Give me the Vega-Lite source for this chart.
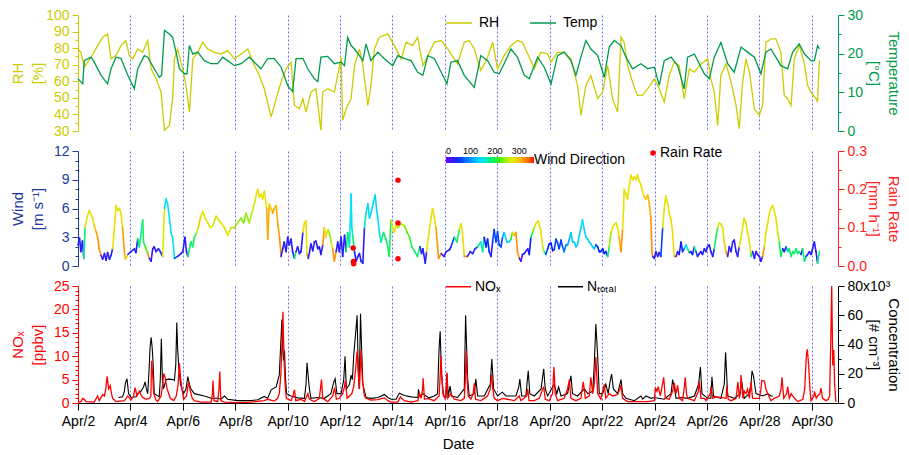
{
  "$schema": "https://vega.github.io/schema/vega-lite/v6.json",
  "padding": {"left": 10, "top": 8, "right": 16, "bottom": 0},
  "spacing": 20,
  "bounds": "flush",
  "config": {
    "view": {"stroke": null},
    "font": "Liberation Sans",
    "axis": {"labelFont": "Liberation Sans", "titleFont": "Liberation Sans", "labelFontSize": 14, "titleFontSize": 15, "titleFontWeight": "normal", "titleLineHeight": 20, "labelPadding": 3, "labelOverlap": false},
    "legend": {"labelFont": "Liberation Sans", "titleFont": "Liberation Sans", "labelFontSize": 14, "labelColor": "#000000"}
  },
  "resolve": {"scale": {"color": "independent", "shape": "independent"}, "legend": {"color": "independent", "shape": "independent"}},
  "datasets": {
    "rh": [
      {"day":2.00,"rh":79.5},{"day":2.11,"rh":77.5},{"day":2.24,"rh":68.5},{"day":2.50,"rh":74.5},{"day":2.75,"rh":81.5},{"day":2.94,"rh":86.6},{"day":3.13,"rh":88.6},{"day":3.26,"rh":73.5},{"day":3.45,"rh":75.5},{"day":3.64,"rh":81.5},{"day":3.83,"rh":84.6},{"day":3.96,"rh":75.5},{"day":4.09,"rh":73.5},{"day":4.28,"rh":79.5},{"day":4.47,"rh":77.5},{"day":4.66,"rh":84.6},{"day":4.79,"rh":67.5},{"day":4.98,"rh":61.5},{"day":5.17,"rh":53.5},{"day":5.30,"rh":30.4},{"day":5.49,"rh":33.4},{"day":5.61,"rh":49.5},{"day":5.68,"rh":73.5},{"day":5.80,"rh":79.5},{"day":6.00,"rh":67.5},{"day":6.12,"rh":57.5},{"day":6.25,"rh":41.4},{"day":6.38,"rh":73.5},{"day":6.57,"rh":77.5},{"day":6.76,"rh":83.6},{"day":6.95,"rh":79.5},{"day":7.20,"rh":77.5},{"day":7.46,"rh":76.5},{"day":7.71,"rh":78.5},{"day":7.97,"rh":73.5},{"day":8.22,"rh":76.5},{"day":8.48,"rh":79.5},{"day":8.73,"rh":69.5},{"day":8.92,"rh":63.5},{"day":9.11,"rh":55.5},{"day":9.37,"rh":38.4},{"day":9.56,"rh":49.5},{"day":9.75,"rh":59.5},{"day":9.94,"rh":67.5},{"day":10.13,"rh":71.5},{"day":10.26,"rh":45.4},{"day":10.45,"rh":43.4},{"day":10.58,"rh":49.5},{"day":10.70,"rh":41.4},{"day":10.89,"rh":53.5},{"day":11.08,"rh":55.5},{"day":11.27,"rh":30.4},{"day":11.34,"rh":53.5},{"day":11.53,"rh":55.5},{"day":11.78,"rh":53.5},{"day":11.91,"rh":63.5},{"day":12.04,"rh":74.5},{"day":12.10,"rh":36.4},{"day":12.23,"rh":43.4},{"day":12.42,"rh":49.5},{"day":12.55,"rh":69.5},{"day":12.74,"rh":79.5},{"day":12.87,"rh":69.5},{"day":13.06,"rh":45.4},{"day":13.18,"rh":57.5},{"day":13.31,"rh":79.5},{"day":13.50,"rh":86.6},{"day":13.82,"rh":88.6},{"day":14.07,"rh":81.5},{"day":14.33,"rh":73.5},{"day":14.52,"rh":83.6},{"day":14.77,"rh":81.5},{"day":14.96,"rh":86.6},{"day":15.16,"rh":69.5},{"day":15.35,"rh":75.5},{"day":15.60,"rh":83.6},{"day":15.86,"rh":84.6},{"day":16.11,"rh":79.5},{"day":16.48,"rh":70.5},{"day":16.74,"rh":83.6},{"day":16.93,"rh":84.6},{"day":17.12,"rh":79.5},{"day":17.37,"rh":66.5},{"day":17.63,"rh":74.5},{"day":17.82,"rh":83.6},{"day":18.01,"rh":67.5},{"day":18.26,"rh":75.5},{"day":18.52,"rh":81.5},{"day":18.77,"rh":84.6},{"day":18.96,"rh":83.6},{"day":19.22,"rh":74.5},{"day":19.41,"rh":67.5},{"day":19.66,"rh":77.5},{"day":19.92,"rh":76.5},{"day":20.05,"rh":71.5},{"day":20.30,"rh":77.5},{"day":20.55,"rh":77.5},{"day":20.81,"rh":73.5},{"day":21.06,"rh":57.5},{"day":21.19,"rh":39.4},{"day":21.38,"rh":57.5},{"day":21.57,"rh":63.5},{"day":21.83,"rh":49.5},{"day":22.02,"rh":53.5},{"day":22.21,"rh":69.5},{"day":22.40,"rh":49.5},{"day":22.59,"rh":41.4},{"day":22.72,"rh":86.6},{"day":22.84,"rh":83.6},{"day":22.97,"rh":69.5},{"day":23.16,"rh":59.5},{"day":23.35,"rh":51.5},{"day":23.54,"rh":51.5},{"day":23.74,"rh":55.5},{"day":23.99,"rh":61.5},{"day":24.18,"rh":55.5},{"day":24.37,"rh":47.5},{"day":24.56,"rh":63.5},{"day":24.75,"rh":71.5},{"day":24.94,"rh":69.5},{"day":25.13,"rh":49.5},{"day":25.33,"rh":67.5},{"day":25.52,"rh":65.5},{"day":25.77,"rh":70.5},{"day":26.03,"rh":73.5},{"day":26.15,"rh":61.5},{"day":26.28,"rh":53.5},{"day":26.41,"rh":33.4},{"day":26.53,"rh":63.5},{"day":26.73,"rh":70.5},{"day":26.92,"rh":59.5},{"day":27.11,"rh":45.4},{"day":27.23,"rh":31.4},{"day":27.36,"rh":59.5},{"day":27.49,"rh":73.5},{"day":27.62,"rh":65.5},{"day":27.81,"rh":43.4},{"day":28.00,"rh":39.4},{"day":28.12,"rh":45.4},{"day":28.25,"rh":83.6},{"day":28.44,"rh":85.6},{"day":28.63,"rh":85.6},{"day":28.82,"rh":77.5},{"day":28.95,"rh":51.5},{"day":29.08,"rh":49.5},{"day":29.21,"rh":45.4},{"day":29.33,"rh":73.5},{"day":29.52,"rh":81.5},{"day":29.72,"rh":70.5},{"day":29.84,"rh":57.5},{"day":29.97,"rh":53.5},{"day":30.16,"rh":49.5},{"day":30.22,"rh":47.5},{"day":30.29,"rh":72.5}
    ],
    "temp": [
      {"day":2.00,"temp":13.5},{"day":2.18,"temp":12.2},{"day":2.24,"temp":18.2},{"day":2.50,"temp":19.1},{"day":2.62,"temp":17.8},{"day":2.88,"temp":14.4},{"day":3.13,"temp":12.2},{"day":3.26,"temp":16.1},{"day":3.45,"temp":19.1},{"day":3.64,"temp":18.8},{"day":3.90,"temp":14.4},{"day":4.15,"temp":10.9},{"day":4.28,"temp":16.1},{"day":4.53,"temp":19.5},{"day":4.66,"temp":19.1},{"day":4.91,"temp":16.1},{"day":5.10,"temp":13.9},{"day":5.19,"temp":14.4},{"day":5.30,"temp":26.0},{"day":5.49,"temp":25.1},{"day":5.61,"temp":24.2},{"day":5.74,"temp":20.4},{"day":5.87,"temp":16.1},{"day":6.06,"temp":14.8},{"day":6.16,"temp":14.8},{"day":6.25,"temp":22.1},{"day":6.38,"temp":19.9},{"day":6.57,"temp":20.4},{"day":6.82,"temp":18.2},{"day":7.08,"temp":17.4},{"day":7.33,"temp":17.4},{"day":7.52,"temp":19.1},{"day":7.71,"temp":18.2},{"day":7.97,"temp":16.9},{"day":8.22,"temp":17.4},{"day":8.54,"temp":19.1},{"day":8.73,"temp":17.8},{"day":8.98,"temp":16.1},{"day":9.24,"temp":18.7},{"day":9.49,"temp":18.7},{"day":9.75,"temp":16.5},{"day":10.00,"temp":11.8},{"day":10.19,"temp":10.2},{"day":10.32,"temp":18.7},{"day":10.58,"temp":18.8},{"day":10.77,"temp":16.1},{"day":11.02,"temp":13.5},{"day":11.15,"temp":12.8},{"day":11.27,"temp":19.1},{"day":11.53,"temp":19.3},{"day":11.78,"temp":17.4},{"day":12.04,"temp":17.8},{"day":12.17,"temp":16.9},{"day":12.29,"temp":24.2},{"day":12.42,"temp":22.1},{"day":12.55,"temp":21.2},{"day":12.74,"temp":19.5},{"day":12.87,"temp":18.2},{"day":12.99,"temp":22.5},{"day":13.18,"temp":18.2},{"day":13.44,"temp":20.4},{"day":13.69,"temp":18.7},{"day":14.01,"temp":16.9},{"day":14.20,"temp":19.5},{"day":14.46,"temp":18.7},{"day":14.71,"temp":18.2},{"day":14.96,"temp":15.2},{"day":15.16,"temp":14.4},{"day":15.35,"temp":19.5},{"day":15.60,"temp":18.7},{"day":15.86,"temp":15.2},{"day":16.08,"temp":12.2},{"day":16.23,"temp":17.8},{"day":16.48,"temp":18.2},{"day":16.74,"temp":14.4},{"day":17.12,"temp":11.3},{"day":17.37,"temp":19.5},{"day":17.63,"temp":18.2},{"day":17.88,"temp":15.2},{"day":18.07,"temp":14.8},{"day":18.26,"temp":17.4},{"day":18.52,"temp":21.2},{"day":18.77,"temp":19.1},{"day":19.03,"temp":14.4},{"day":19.22,"temp":13.5},{"day":19.54,"temp":19.1},{"day":19.79,"temp":16.5},{"day":20.05,"temp":12.2},{"day":20.30,"temp":19.5},{"day":20.55,"temp":20.4},{"day":20.81,"temp":18.2},{"day":21.00,"temp":14.4},{"day":21.19,"temp":19.1},{"day":21.38,"temp":23.4},{"day":21.57,"temp":21.2},{"day":21.83,"temp":19.5},{"day":22.08,"temp":13.9},{"day":22.27,"temp":21.7},{"day":22.46,"temp":23.4},{"day":22.72,"temp":22.1},{"day":22.91,"temp":19.1},{"day":23.16,"temp":16.1},{"day":23.48,"temp":17.4},{"day":23.74,"temp":16.1},{"day":23.99,"temp":16.5},{"day":24.18,"temp":11.8},{"day":24.37,"temp":18.2},{"day":24.63,"temp":19.1},{"day":24.88,"temp":16.9},{"day":25.13,"temp":10.9},{"day":25.26,"temp":19.1},{"day":25.52,"temp":19.9},{"day":25.90,"temp":14.8},{"day":26.09,"temp":13.5},{"day":26.28,"temp":19.1},{"day":26.53,"temp":22.9},{"day":26.79,"temp":17.4},{"day":27.04,"temp":15.2},{"day":27.30,"temp":21.7},{"day":27.55,"temp":20.4},{"day":27.81,"temp":19.1},{"day":28.06,"temp":14.8},{"day":28.25,"temp":20.4},{"day":28.44,"temp":21.2},{"day":28.63,"temp":19.1},{"day":28.82,"temp":16.9},{"day":29.08,"temp":16.1},{"day":29.27,"temp":20.4},{"day":29.52,"temp":22.5},{"day":29.72,"temp":19.9},{"day":29.97,"temp":18.2},{"day":30.10,"temp":18.2},{"day":30.22,"temp":22.1},{"day":30.29,"temp":21.2}
    ],
    "wind": [
      {"day":2.00,"ws":2.2,"dir":40},{"day":2.06,"ws":2.9,"dir":40},{"day":2.11,"ws":1.5,"dir":40},{"day":2.17,"ws":2.6,"dir":40},{"day":2.22,"ws":0.8,"dir":180},{"day":2.27,"ws":4.0,"dir":280},{"day":2.34,"ws":5.0,"dir":280},{"day":2.43,"ws":5.8,"dir":285},{"day":2.56,"ws":5.0,"dir":285},{"day":2.62,"ws":4.2,"dir":300},{"day":2.69,"ws":3.6,"dir":315},{"day":2.75,"ws":3.0,"dir":320},{"day":2.81,"ws":1.8,"dir":320},{"day":2.88,"ws":1.1,"dir":15},{"day":2.94,"ws":0.7,"dir":40},{"day":3.01,"ws":1.3,"dir":40},{"day":3.07,"ws":0.6,"dir":40},{"day":3.13,"ws":1.4,"dir":40},{"day":3.20,"ws":0.7,"dir":40},{"day":3.26,"ws":1.1,"dir":40},{"day":3.32,"ws":1.8,"dir":280},{"day":3.36,"ws":3.0,"dir":285},{"day":3.45,"ws":6.3,"dir":285},{"day":3.51,"ws":5.8,"dir":285},{"day":3.58,"ws":6.0,"dir":285},{"day":3.64,"ws":5.5,"dir":290},{"day":3.70,"ws":4.0,"dir":315},{"day":3.77,"ws":1.5,"dir":310},{"day":3.81,"ws":0.7,"dir":290},{"day":3.90,"ws":1.2,"dir":40},{"day":4.02,"ws":1.5,"dir":40},{"day":4.15,"ws":1.8,"dir":40},{"day":4.21,"ws":1.4,"dir":45},{"day":4.28,"ws":2.8,"dir":190},{"day":4.34,"ws":2.0,"dir":180},{"day":4.40,"ws":3.3,"dir":160},{"day":4.47,"ws":4.8,"dir":200},{"day":4.50,"ws":2.5,"dir":200},{"day":4.57,"ws":2.0,"dir":220},{"day":4.66,"ws":1.3,"dir":320},{"day":4.72,"ws":0.8,"dir":30},{"day":4.79,"ws":0.5,"dir":40},{"day":4.85,"ws":1.8,"dir":40},{"day":4.91,"ws":2.0,"dir":40},{"day":4.98,"ws":1.5,"dir":40},{"day":5.07,"ws":1.8,"dir":40},{"day":5.14,"ws":1.5,"dir":40},{"day":5.23,"ws":1.0,"dir":270},{"day":5.30,"ws":6.0,"dir":140},{"day":5.36,"ws":7.0,"dir":140},{"day":5.42,"ws":6.5,"dir":140},{"day":5.49,"ws":5.0,"dir":140},{"day":5.55,"ws":3.5,"dir":150},{"day":5.61,"ws":3.0,"dir":150},{"day":5.68,"ws":0.8,"dir":60},{"day":5.80,"ws":1.0,"dir":40},{"day":5.93,"ws":1.3,"dir":40},{"day":6.00,"ws":1.5,"dir":40},{"day":6.08,"ws":3.0,"dir":40},{"day":6.14,"ws":1.5,"dir":40},{"day":6.19,"ws":1.0,"dir":190},{"day":6.25,"ws":1.8,"dir":190},{"day":6.31,"ws":2.5,"dir":190},{"day":6.38,"ws":2.0,"dir":200},{"day":6.44,"ws":3.0,"dir":210},{"day":6.53,"ws":3.5,"dir":270},{"day":6.59,"ws":4.0,"dir":300},{"day":6.67,"ws":5.0,"dir":280},{"day":6.76,"ws":5.7,"dir":280},{"day":6.85,"ws":5.0,"dir":280},{"day":6.95,"ws":4.5,"dir":280},{"day":7.05,"ws":4.0,"dir":270},{"day":7.14,"ws":4.2,"dir":255},{"day":7.27,"ws":5.2,"dir":275},{"day":7.36,"ws":4.8,"dir":280},{"day":7.46,"ws":4.5,"dir":275},{"day":7.59,"ws":4.0,"dir":270},{"day":7.71,"ws":3.2,"dir":280},{"day":7.84,"ws":4.0,"dir":250},{"day":7.97,"ws":4.0,"dir":245},{"day":8.09,"ws":4.5,"dir":245},{"day":8.22,"ws":5.0,"dir":230},{"day":8.32,"ws":4.5,"dir":230},{"day":8.41,"ws":5.5,"dir":240},{"day":8.54,"ws":4.5,"dir":250},{"day":8.63,"ws":5.5,"dir":260},{"day":8.73,"ws":6.5,"dir":275},{"day":8.81,"ws":7.5,"dir":280},{"day":8.86,"ws":8.0,"dir":280},{"day":8.92,"ws":7.2,"dir":280},{"day":8.98,"ws":7.5,"dir":280},{"day":9.05,"ws":7.0,"dir":280},{"day":9.11,"ws":7.8,"dir":280},{"day":9.20,"ws":6.0,"dir":310},{"day":9.24,"ws":2.8,"dir":310},{"day":9.30,"ws":6.5,"dir":290},{"day":9.37,"ws":6.0,"dir":300},{"day":9.43,"ws":5.5,"dir":315},{"day":9.49,"ws":6.0,"dir":300},{"day":9.56,"ws":6.3,"dir":310},{"day":9.62,"ws":4.5,"dir":315},{"day":9.69,"ws":3.0,"dir":320},{"day":9.75,"ws":1.0,"dir":40},{"day":9.81,"ws":1.8,"dir":40},{"day":9.87,"ws":2.5,"dir":40},{"day":9.94,"ws":1.5,"dir":40},{"day":10.00,"ws":3.0,"dir":40},{"day":10.06,"ws":2.2,"dir":40},{"day":10.13,"ws":2.8,"dir":40},{"day":10.19,"ws":1.5,"dir":45},{"day":10.26,"ws":0.8,"dir":190},{"day":10.32,"ws":1.5,"dir":40},{"day":10.38,"ws":2.0,"dir":40},{"day":10.45,"ws":1.3,"dir":40},{"day":10.51,"ws":1.5,"dir":40},{"day":10.58,"ws":3.5,"dir":290},{"day":10.64,"ws":4.5,"dir":285},{"day":10.70,"ws":4.7,"dir":285},{"day":10.74,"ws":1.2,"dir":320},{"day":10.79,"ws":0.8,"dir":40},{"day":10.89,"ws":2.3,"dir":40},{"day":10.96,"ws":1.6,"dir":40},{"day":11.02,"ws":2.5,"dir":40},{"day":11.08,"ws":2.6,"dir":40},{"day":11.15,"ws":1.8,"dir":40},{"day":11.21,"ws":2.0,"dir":40},{"day":11.27,"ws":1.2,"dir":40},{"day":11.34,"ws":2.2,"dir":320},{"day":11.40,"ws":4.0,"dir":285},{"day":11.46,"ws":3.0,"dir":280},{"day":11.53,"ws":3.8,"dir":250},{"day":11.59,"ws":3.5,"dir":240},{"day":11.66,"ws":2.5,"dir":280},{"day":11.72,"ws":1.8,"dir":320},{"day":11.78,"ws":0.5,"dir":320},{"day":11.85,"ws":1.5,"dir":40},{"day":11.91,"ws":2.5,"dir":40},{"day":11.97,"ws":1.5,"dir":40},{"day":12.04,"ws":3.0,"dir":40},{"day":12.10,"ws":1.0,"dir":40},{"day":12.17,"ws":3.2,"dir":40},{"day":12.23,"ws":1.5,"dir":190},{"day":12.29,"ws":3.5,"dir":190},{"day":12.36,"ws":2.0,"dir":150},{"day":12.42,"ws":7.5,"dir":140},{"day":12.45,"ws":4.0,"dir":170},{"day":12.49,"ws":3.0,"dir":190},{"day":12.55,"ws":1.5,"dir":50},{"day":12.61,"ws":0.5,"dir":40},{"day":12.68,"ws":1.0,"dir":40},{"day":12.74,"ws":1.3,"dir":40},{"day":12.80,"ws":0.5,"dir":40},{"day":12.87,"ws":0.3,"dir":40},{"day":12.93,"ws":4.0,"dir":170},{"day":12.99,"ws":5.5,"dir":140},{"day":13.06,"ws":6.5,"dir":135},{"day":13.12,"ws":5.0,"dir":140},{"day":13.18,"ws":5.5,"dir":140},{"day":13.26,"ws":6.5,"dir":135},{"day":13.34,"ws":7.4,"dir":135},{"day":13.39,"ws":6.0,"dir":135},{"day":13.44,"ws":5.0,"dir":140},{"day":13.50,"ws":3.5,"dir":160},{"day":13.56,"ws":2.5,"dir":190},{"day":13.66,"ws":3.5,"dir":190},{"day":13.75,"ws":2.8,"dir":190},{"day":13.82,"ws":2.0,"dir":190},{"day":13.88,"ws":1.0,"dir":200},{"day":13.94,"ws":4.8,"dir":285},{"day":14.01,"ws":4.0,"dir":280},{"day":14.07,"ws":3.5,"dir":285},{"day":14.13,"ws":4.2,"dir":260},{"day":14.20,"ws":4.0,"dir":250},{"day":14.33,"ws":4.4,"dir":245},{"day":14.46,"ws":4.2,"dir":230},{"day":14.56,"ws":3.5,"dir":220},{"day":14.65,"ws":3.0,"dir":210},{"day":14.74,"ws":2.0,"dir":200},{"day":14.85,"ws":1.5,"dir":190},{"day":14.95,"ws":1.0,"dir":190},{"day":15.05,"ws":2.0,"dir":40},{"day":15.11,"ws":1.3,"dir":40},{"day":15.16,"ws":1.8,"dir":40},{"day":15.25,"ws":0.3,"dir":40},{"day":15.30,"ws":1.5,"dir":280},{"day":15.37,"ws":3.0,"dir":280},{"day":15.47,"ws":5.0,"dir":280},{"day":15.53,"ws":6.0,"dir":280},{"day":15.60,"ws":5.0,"dir":290},{"day":15.66,"ws":4.0,"dir":315},{"day":15.72,"ws":2.0,"dir":320},{"day":15.76,"ws":0.8,"dir":320},{"day":15.86,"ws":1.3,"dir":40},{"day":15.96,"ws":1.0,"dir":40},{"day":16.05,"ws":1.5,"dir":40},{"day":16.18,"ws":1.7,"dir":40},{"day":16.23,"ws":2.0,"dir":60},{"day":16.36,"ws":3.0,"dir":180},{"day":16.46,"ws":2.5,"dir":200},{"day":16.55,"ws":3.8,"dir":275},{"day":16.61,"ws":4.4,"dir":280},{"day":16.67,"ws":3.5,"dir":290},{"day":16.74,"ws":1.0,"dir":320},{"day":16.86,"ws":1.0,"dir":40},{"day":16.97,"ws":1.5,"dir":40},{"day":17.06,"ws":1.3,"dir":40},{"day":17.15,"ws":1.8,"dir":60},{"day":17.25,"ws":2.0,"dir":190},{"day":17.37,"ws":2.5,"dir":150},{"day":17.44,"ws":1.5,"dir":180},{"day":17.50,"ws":3.0,"dir":50},{"day":17.57,"ws":2.0,"dir":50},{"day":17.63,"ws":2.8,"dir":50},{"day":17.69,"ws":1.5,"dir":40},{"day":17.76,"ws":1.0,"dir":40},{"day":17.82,"ws":2.5,"dir":60},{"day":17.88,"ws":3.8,"dir":60},{"day":17.95,"ws":2.5,"dir":60},{"day":18.01,"ws":3.6,"dir":60},{"day":18.07,"ws":2.2,"dir":60},{"day":18.14,"ws":2.0,"dir":60},{"day":18.20,"ws":3.0,"dir":110},{"day":18.26,"ws":3.5,"dir":130},{"day":18.37,"ws":2.5,"dir":140},{"day":18.45,"ws":2.5,"dir":140},{"day":18.52,"ws":2.8,"dir":220},{"day":18.58,"ws":3.5,"dir":280},{"day":18.65,"ws":3.2,"dir":310},{"day":18.71,"ws":3.5,"dir":320},{"day":18.77,"ws":1.5,"dir":320},{"day":18.84,"ws":0.8,"dir":40},{"day":18.90,"ws":0.5,"dir":30},{"day":18.96,"ws":1.2,"dir":40},{"day":19.03,"ws":1.3,"dir":40},{"day":19.16,"ws":1.8,"dir":40},{"day":19.22,"ws":1.2,"dir":50},{"day":19.28,"ws":3.0,"dir":190},{"day":19.35,"ws":3.5,"dir":230},{"day":19.41,"ws":4.0,"dir":275},{"day":19.49,"ws":4.5,"dir":280},{"day":19.56,"ws":4.7,"dir":280},{"day":19.66,"ws":3.7,"dir":285},{"day":19.73,"ws":2.0,"dir":250},{"day":19.79,"ws":1.5,"dir":190},{"day":19.85,"ws":1.2,"dir":60},{"day":19.92,"ws":1.8,"dir":50},{"day":19.98,"ws":2.3,"dir":50},{"day":20.05,"ws":2.4,"dir":50},{"day":20.11,"ws":1.6,"dir":50},{"day":20.17,"ws":1.7,"dir":60},{"day":20.24,"ws":2.8,"dir":60},{"day":20.30,"ws":2.4,"dir":60},{"day":20.36,"ws":1.8,"dir":60},{"day":20.43,"ws":2.7,"dir":60},{"day":20.49,"ws":2.0,"dir":80},{"day":20.55,"ws":1.5,"dir":80},{"day":20.62,"ws":2.2,"dir":100},{"day":20.68,"ws":2.2,"dir":110},{"day":20.75,"ws":2.8,"dir":120},{"day":20.81,"ws":3.5,"dir":130},{"day":20.87,"ws":2.5,"dir":130},{"day":20.94,"ws":2.5,"dir":130},{"day":21.00,"ws":2.0,"dir":130},{"day":21.06,"ws":2.2,"dir":130},{"day":21.13,"ws":3.2,"dir":130},{"day":21.19,"ws":4.0,"dir":135},{"day":21.25,"ws":4.8,"dir":135},{"day":21.32,"ws":3.8,"dir":135},{"day":21.38,"ws":3.0,"dir":135},{"day":21.45,"ws":2.8,"dir":130},{"day":21.51,"ws":2.5,"dir":130},{"day":21.57,"ws":2.3,"dir":130},{"day":21.64,"ws":2.0,"dir":130},{"day":21.70,"ws":1.8,"dir":120},{"day":21.76,"ws":2.2,"dir":60},{"day":21.83,"ws":2.0,"dir":50},{"day":21.89,"ws":1.5,"dir":50},{"day":21.95,"ws":1.5,"dir":50},{"day":22.02,"ws":1.8,"dir":50},{"day":22.08,"ws":1.3,"dir":50},{"day":22.14,"ws":1.5,"dir":50},{"day":22.21,"ws":1.0,"dir":190},{"day":22.27,"ws":2.0,"dir":240},{"day":22.34,"ws":3.5,"dir":280},{"day":22.40,"ws":4.0,"dir":280},{"day":22.46,"ws":4.3,"dir":280},{"day":22.53,"ws":4.5,"dir":285},{"day":22.59,"ws":4.0,"dir":290},{"day":22.65,"ws":3.0,"dir":310},{"day":22.72,"ws":1.5,"dir":320},{"day":22.78,"ws":3.8,"dir":285},{"day":22.82,"ws":6.0,"dir":280},{"day":22.84,"ws":8.0,"dir":280},{"day":22.91,"ws":7.5,"dir":285},{"day":22.97,"ws":7.0,"dir":285},{"day":23.04,"ws":8.5,"dir":285},{"day":23.10,"ws":9.5,"dir":285},{"day":23.16,"ws":9.0,"dir":285},{"day":23.23,"ws":9.3,"dir":285},{"day":23.29,"ws":9.0,"dir":285},{"day":23.35,"ws":9.5,"dir":285},{"day":23.42,"ws":8.8,"dir":285},{"day":23.48,"ws":8.5,"dir":285},{"day":23.54,"ws":7.8,"dir":290},{"day":23.61,"ws":7.2,"dir":300},{"day":23.67,"ws":7.0,"dir":300},{"day":23.74,"ws":7.4,"dir":305},{"day":23.80,"ws":6.5,"dir":310},{"day":23.86,"ws":5.0,"dir":320},{"day":23.90,"ws":1.5,"dir":320},{"day":23.93,"ws":1.0,"dir":40},{"day":23.99,"ws":0.8,"dir":40},{"day":24.05,"ws":1.5,"dir":40},{"day":24.12,"ws":1.0,"dir":40},{"day":24.18,"ws":1.4,"dir":40},{"day":24.24,"ws":1.0,"dir":60},{"day":24.31,"ws":4.0,"dir":270},{"day":24.37,"ws":6.0,"dir":280},{"day":24.43,"ws":7.3,"dir":285},{"day":24.50,"ws":6.5,"dir":285},{"day":24.56,"ws":5.5,"dir":285},{"day":24.63,"ws":4.8,"dir":285},{"day":24.69,"ws":3.5,"dir":290},{"day":24.75,"ws":1.0,"dir":320},{"day":24.82,"ws":1.0,"dir":40},{"day":24.88,"ws":1.5,"dir":40},{"day":24.94,"ws":1.2,"dir":40},{"day":25.01,"ws":2.5,"dir":50},{"day":25.07,"ws":1.5,"dir":60},{"day":25.13,"ws":1.8,"dir":120},{"day":25.20,"ws":2.2,"dir":150},{"day":25.26,"ws":1.8,"dir":190},{"day":25.33,"ws":1.4,"dir":60},{"day":25.39,"ws":1.5,"dir":50},{"day":25.45,"ws":1.2,"dir":40},{"day":25.52,"ws":2.0,"dir":170},{"day":25.58,"ws":1.5,"dir":60},{"day":25.64,"ws":1.0,"dir":40},{"day":25.71,"ws":1.3,"dir":40},{"day":25.77,"ws":1.5,"dir":40},{"day":25.83,"ws":1.2,"dir":40},{"day":25.90,"ws":1.8,"dir":40},{"day":25.96,"ws":1.5,"dir":40},{"day":26.02,"ws":2.0,"dir":40},{"day":26.09,"ws":2.2,"dir":40},{"day":26.15,"ws":1.5,"dir":40},{"day":26.22,"ws":1.0,"dir":40},{"day":26.28,"ws":1.8,"dir":190},{"day":26.34,"ws":3.0,"dir":200},{"day":26.41,"ws":4.0,"dir":270},{"day":26.47,"ws":4.5,"dir":280},{"day":26.53,"ws":4.4,"dir":280},{"day":26.60,"ws":4.0,"dir":280},{"day":26.66,"ws":2.5,"dir":300},{"day":26.72,"ws":1.5,"dir":320},{"day":26.79,"ws":1.0,"dir":40},{"day":26.85,"ws":2.0,"dir":40},{"day":26.92,"ws":1.5,"dir":40},{"day":26.98,"ws":2.5,"dir":40},{"day":27.04,"ws":2.7,"dir":40},{"day":27.11,"ws":1.5,"dir":40},{"day":27.17,"ws":1.0,"dir":40},{"day":27.23,"ws":2.0,"dir":280},{"day":27.30,"ws":3.0,"dir":280},{"day":27.36,"ws":4.0,"dir":280},{"day":27.42,"ws":5.0,"dir":280},{"day":27.49,"ws":4.5,"dir":280},{"day":27.55,"ws":3.5,"dir":285},{"day":27.62,"ws":2.5,"dir":270},{"day":27.68,"ws":1.0,"dir":190},{"day":27.74,"ws":1.5,"dir":40},{"day":27.81,"ws":0.8,"dir":40},{"day":27.87,"ws":1.5,"dir":40},{"day":27.93,"ws":1.2,"dir":40},{"day":28.00,"ws":1.0,"dir":40},{"day":28.06,"ws":0.5,"dir":10},{"day":28.12,"ws":1.0,"dir":320},{"day":28.19,"ws":2.0,"dir":280},{"day":28.25,"ws":3.5,"dir":280},{"day":28.32,"ws":4.5,"dir":280},{"day":28.38,"ws":5.5,"dir":280},{"day":28.44,"ws":6.0,"dir":280},{"day":28.51,"ws":6.3,"dir":280},{"day":28.57,"ws":5.8,"dir":280},{"day":28.63,"ws":5.0,"dir":285},{"day":28.70,"ws":3.5,"dir":250},{"day":28.76,"ws":2.5,"dir":200},{"day":28.82,"ws":1.0,"dir":190},{"day":28.89,"ws":1.8,"dir":40},{"day":28.95,"ws":1.5,"dir":40},{"day":29.02,"ws":2.0,"dir":100},{"day":29.08,"ws":1.5,"dir":190},{"day":29.14,"ws":1.8,"dir":190},{"day":29.21,"ws":1.0,"dir":190},{"day":29.27,"ws":1.5,"dir":190},{"day":29.33,"ws":1.3,"dir":190},{"day":29.40,"ws":1.8,"dir":190},{"day":29.46,"ws":1.3,"dir":190},{"day":29.52,"ws":1.5,"dir":190},{"day":29.59,"ws":1.2,"dir":40},{"day":29.65,"ws":1.8,"dir":190},{"day":29.72,"ws":0.5,"dir":190},{"day":29.78,"ws":1.0,"dir":50},{"day":29.84,"ws":1.2,"dir":40},{"day":29.91,"ws":1.5,"dir":40},{"day":29.97,"ws":1.2,"dir":40},{"day":30.03,"ws":1.8,"dir":40},{"day":30.10,"ws":2.5,"dir":40},{"day":30.16,"ws":1.5,"dir":40},{"day":30.22,"ws":0.3,"dir":190},{"day":30.29,"ws":1.5,"dir":140}
    ],
    "rain": [
      {"day":12.50,"rain":0.047},{"day":12.51,"rain":0.012},{"day":12.52,"rain":0.006},{"day":14.21,"rain":0.224},{"day":14.21,"rain":0.112},{"day":14.21,"rain":0.019}
    ],
    "nox": [
      {"day":2.00,"nox":0.2},{"day":2.11,"nox":0.3},{"day":2.18,"nox":1.0},{"day":2.24,"nox":0.8},{"day":2.31,"nox":0.3},{"day":2.62,"nox":0.2},{"day":2.75,"nox":1.5},{"day":2.81,"nox":0.5},{"day":2.88,"nox":1.2},{"day":2.94,"nox":1.8},{"day":3.01,"nox":1.5},{"day":3.06,"nox":3.0},{"day":3.11,"nox":5.7},{"day":3.17,"nox":3.0},{"day":3.23,"nox":3.7},{"day":3.28,"nox":2.0},{"day":3.32,"nox":1.0},{"day":3.45,"nox":0.3},{"day":3.77,"nox":0.5},{"day":3.90,"nox":1.5},{"day":4.02,"nox":0.6},{"day":4.12,"nox":1.5},{"day":4.18,"nox":3.3},{"day":4.25,"nox":1.5},{"day":4.34,"nox":2.5},{"day":4.40,"nox":1.8},{"day":4.47,"nox":1.2},{"day":4.60,"nox":0.8},{"day":4.73,"nox":1.0},{"day":4.78,"nox":1.5},{"day":4.81,"nox":9.0},{"day":4.85,"nox":6.0},{"day":4.89,"nox":2.0},{"day":4.98,"nox":0.6},{"day":5.04,"nox":0.3},{"day":5.17,"nox":1.5},{"day":5.23,"nox":4.0},{"day":5.27,"nox":6.3},{"day":5.32,"nox":5.5},{"day":5.40,"nox":3.0},{"day":5.52,"nox":1.0},{"day":5.65,"nox":0.5},{"day":5.75,"nox":1.5},{"day":5.82,"nox":4.0},{"day":5.87,"nox":8.5},{"day":5.92,"nox":5.0},{"day":5.97,"nox":3.0},{"day":6.03,"nox":0.8},{"day":6.14,"nox":1.5},{"day":6.19,"nox":3.5},{"day":6.22,"nox":4.5},{"day":6.29,"nox":2.5},{"day":6.36,"nox":1.0},{"day":6.44,"nox":0.5},{"day":6.69,"nox":0.2},{"day":7.08,"nox":0.2},{"day":7.13,"nox":2.0},{"day":7.15,"nox":4.8},{"day":7.19,"nox":0.5},{"day":7.33,"nox":0.3},{"day":7.38,"nox":3.0},{"day":7.41,"nox":6.7},{"day":7.45,"nox":0.5},{"day":7.59,"nox":0.2},{"day":8.09,"nox":0.1},{"day":8.60,"nox":0.2},{"day":9.11,"nox":0.5},{"day":9.24,"nox":0.8},{"day":9.49,"nox":0.4},{"day":9.62,"nox":1.0},{"day":9.68,"nox":2.0},{"day":9.74,"nox":6.0},{"day":9.78,"nox":12.0},{"day":9.82,"nox":19.5},{"day":9.86,"nox":10.0},{"day":9.90,"nox":4.0},{"day":9.95,"nox":1.0},{"day":10.13,"nox":0.5},{"day":10.20,"nox":1.5},{"day":10.26,"nox":2.8},{"day":10.31,"nox":0.5},{"day":10.51,"nox":0.8},{"day":10.64,"nox":0.3},{"day":10.77,"nox":2.0},{"day":10.83,"nox":0.8},{"day":11.02,"nox":0.3},{"day":11.21,"nox":1.0},{"day":11.25,"nox":3.0},{"day":11.29,"nox":5.0},{"day":11.34,"nox":1.0},{"day":11.53,"nox":0.3},{"day":11.72,"nox":1.5},{"day":11.79,"nox":3.3},{"day":11.86,"nox":0.8},{"day":11.97,"nox":1.0},{"day":12.10,"nox":2.0},{"day":12.17,"nox":3.5},{"day":12.20,"nox":4.8},{"day":12.27,"nox":1.0},{"day":12.36,"nox":1.5},{"day":12.45,"nox":2.0},{"day":12.52,"nox":3.5},{"day":12.59,"nox":7.0},{"day":12.65,"nox":11.0},{"day":12.70,"nox":6.0},{"day":12.74,"nox":3.0},{"day":12.80,"nox":11.5},{"day":12.85,"nox":5.0},{"day":12.93,"nox":1.5},{"day":12.99,"nox":1.0},{"day":13.18,"nox":0.6},{"day":13.44,"nox":0.7},{"day":13.69,"nox":1.1},{"day":13.82,"nox":0.5},{"day":13.95,"nox":0.2},{"day":14.20,"nox":0.2},{"day":14.30,"nox":1.3},{"day":14.39,"nox":0.8},{"day":14.46,"nox":0.5},{"day":14.71,"nox":0.2},{"day":14.97,"nox":0.5},{"day":15.03,"nox":2.0},{"day":15.09,"nox":1.0},{"day":15.15,"nox":3.0},{"day":15.17,"nox":5.3},{"day":15.22,"nox":0.8},{"day":15.34,"nox":1.0},{"day":15.59,"nox":0.5},{"day":15.72,"nox":1.2},{"day":15.78,"nox":1.5},{"day":15.82,"nox":6.0},{"day":15.85,"nox":10.0},{"day":15.89,"nox":5.0},{"day":15.92,"nox":2.0},{"day":16.00,"nox":1.0},{"day":16.05,"nox":3.0},{"day":16.08,"nox":6.5},{"day":16.11,"nox":1.0},{"day":16.23,"nox":2.0},{"day":16.36,"nox":0.8},{"day":16.61,"nox":0.5},{"day":16.74,"nox":1.0},{"day":16.78,"nox":5.0},{"day":16.81,"nox":11.2},{"day":16.85,"nox":5.0},{"day":16.89,"nox":1.5},{"day":16.99,"nox":0.8},{"day":17.08,"nox":2.0},{"day":17.12,"nox":4.2},{"day":17.17,"nox":0.8},{"day":17.37,"nox":0.5},{"day":17.63,"nox":1.5},{"day":17.73,"nox":3.0},{"day":17.78,"nox":6.1},{"day":17.83,"nox":3.0},{"day":17.88,"nox":1.0},{"day":18.01,"nox":0.5},{"day":18.20,"nox":1.0},{"day":18.39,"nox":0.8},{"day":18.65,"nox":0.5},{"day":18.84,"nox":1.5},{"day":18.90,"nox":0.5},{"day":19.12,"nox":1.5},{"day":19.16,"nox":3.0},{"day":19.21,"nox":0.5},{"day":19.41,"nox":0.5},{"day":19.60,"nox":1.0},{"day":19.77,"nox":3.5},{"day":19.83,"nox":0.8},{"day":19.98,"nox":0.5},{"day":20.11,"nox":2.0},{"day":20.16,"nox":7.7},{"day":20.21,"nox":2.0},{"day":20.30,"nox":0.5},{"day":20.55,"nox":1.0},{"day":20.68,"nox":3.0},{"day":20.75,"nox":5.0},{"day":20.81,"nox":1.0},{"day":21.00,"nox":0.5},{"day":21.19,"nox":1.0},{"day":21.28,"nox":4.5},{"day":21.36,"nox":1.0},{"day":21.51,"nox":1.5},{"day":21.57,"nox":5.5},{"day":21.64,"nox":2.0},{"day":21.70,"nox":4.0},{"day":21.76,"nox":9.8},{"day":21.83,"nox":2.0},{"day":21.95,"nox":0.8},{"day":22.08,"nox":4.0},{"day":22.14,"nox":1.0},{"day":22.27,"nox":2.0},{"day":22.40,"nox":1.5},{"day":22.59,"nox":1.8},{"day":22.68,"nox":3.0},{"day":22.72,"nox":3.8},{"day":22.78,"nox":1.0},{"day":22.97,"nox":0.3},{"day":23.23,"nox":0.3},{"day":23.74,"nox":0.3},{"day":23.99,"nox":0.5},{"day":24.03,"nox":3.3},{"day":24.09,"nox":2.5},{"day":24.14,"nox":3.5},{"day":24.22,"nox":1.5},{"day":24.27,"nox":3.0},{"day":24.35,"nox":5.5},{"day":24.41,"nox":1.0},{"day":24.56,"nox":0.8},{"day":24.69,"nox":2.5},{"day":24.75,"nox":4.3},{"day":24.82,"nox":2.0},{"day":24.88,"nox":3.8},{"day":24.94,"nox":1.0},{"day":25.07,"nox":0.5},{"day":25.13,"nox":3.0},{"day":25.17,"nox":5.5},{"day":25.22,"nox":2.0},{"day":25.26,"nox":1.0},{"day":25.52,"nox":0.5},{"day":25.67,"nox":2.5},{"day":25.71,"nox":4.7},{"day":25.77,"nox":1.0},{"day":25.90,"nox":1.0},{"day":25.96,"nox":0.5},{"day":26.13,"nox":2.0},{"day":26.15,"nox":3.5},{"day":26.22,"nox":1.0},{"day":26.34,"nox":1.3},{"day":26.53,"nox":1.2},{"day":26.73,"nox":1.0},{"day":26.76,"nox":3.7},{"day":26.81,"nox":0.8},{"day":26.92,"nox":0.5},{"day":27.11,"nox":1.0},{"day":27.18,"nox":4.5},{"day":27.24,"nox":1.0},{"day":27.28,"nox":3.0},{"day":27.30,"nox":6.0},{"day":27.37,"nox":1.0},{"day":27.43,"nox":2.5},{"day":27.49,"nox":2.0},{"day":27.55,"nox":3.0},{"day":27.62,"nox":1.0},{"day":27.68,"nox":4.5},{"day":27.74,"nox":1.0},{"day":27.87,"nox":1.0},{"day":28.00,"nox":1.0},{"day":28.06,"nox":3.0},{"day":28.09,"nox":4.8},{"day":28.19,"nox":4.7},{"day":28.25,"nox":3.0},{"day":28.32,"nox":2.0},{"day":28.44,"nox":0.5},{"day":28.57,"nox":1.0},{"day":28.76,"nox":1.5},{"day":28.83,"nox":3.0},{"day":28.86,"nox":5.5},{"day":28.93,"nox":1.0},{"day":29.04,"nox":2.0},{"day":29.08,"nox":3.5},{"day":29.14,"nox":1.0},{"day":29.21,"nox":2.0},{"day":29.27,"nox":1.5},{"day":29.34,"nox":1.0},{"day":29.47,"nox":0.3},{"day":29.66,"nox":0.8},{"day":29.73,"nox":3.0},{"day":29.79,"nox":10.0},{"day":29.83,"nox":11.5},{"day":29.88,"nox":8.0},{"day":29.93,"nox":3.0},{"day":29.97,"nox":0.5},{"day":30.08,"nox":1.5},{"day":30.10,"nox":2.5},{"day":30.17,"nox":1.0},{"day":30.22,"nox":1.5},{"day":30.31,"nox":2.0},{"day":30.35,"nox":3.2},{"day":30.41,"nox":1.0},{"day":30.54,"nox":0.5},{"day":30.63,"nox":0.8},{"day":30.68,"nox":1.5},{"day":30.72,"nox":12.0},{"day":30.76,"nox":25.0},{"day":30.80,"nox":8.0},{"day":30.84,"nox":11.3},{"day":30.87,"nox":4.0},{"day":30.92,"nox":0.2}
    ],
    "ntot": [
      {"day":3.54,"ntot":3.8},{"day":3.70,"ntot":4.2},{"day":3.77,"ntot":8},{"day":3.81,"ntot":13.8},{"day":3.87,"ntot":16.6},{"day":3.93,"ntot":6.4},{"day":4.02,"ntot":3.8},{"day":4.21,"ntot":4.2},{"day":4.28,"ntot":6.4},{"day":4.40,"ntot":8},{"day":4.50,"ntot":11},{"day":4.56,"ntot":14.4},{"day":4.61,"ntot":9.6},{"day":4.66,"ntot":6.4},{"day":4.71,"ntot":22},{"day":4.75,"ntot":38},{"day":4.79,"ntot":45},{"day":4.83,"ntot":38},{"day":4.86,"ntot":29},{"day":4.91,"ntot":6.4},{"day":5.10,"ntot":4.2},{"day":5.14,"ntot":16},{"day":5.18,"ntot":44},{"day":5.22,"ntot":16},{"day":5.26,"ntot":9.6},{"day":5.36,"ntot":16},{"day":5.49,"ntot":16.3},{"day":5.62,"ntot":16},{"day":5.68,"ntot":15.4},{"day":5.73,"ntot":26},{"day":5.77,"ntot":55},{"day":5.80,"ntot":38},{"day":5.84,"ntot":26},{"day":5.91,"ntot":12.8},{"day":6.03,"ntot":6.4},{"day":6.12,"ntot":9.6},{"day":6.19,"ntot":18},{"day":6.25,"ntot":12.8},{"day":6.31,"ntot":9.6},{"day":6.44,"ntot":6.4},{"day":6.82,"ntot":4.8},{"day":7.08,"ntot":3.2},{"day":7.33,"ntot":3.2},{"day":7.46,"ntot":2.6},{"day":7.59,"ntot":4.8},{"day":7.71,"ntot":2.6},{"day":8.09,"ntot":1.6},{"day":8.60,"ntot":1.6},{"day":8.86,"ntot":2.2},{"day":9.11,"ntot":4.5},{"day":9.24,"ntot":3.2},{"day":9.37,"ntot":9},{"day":9.56,"ntot":11},{"day":9.68,"ntot":19},{"day":9.73,"ntot":38},{"day":9.78,"ntot":57},{"day":9.81,"ntot":38},{"day":9.84,"ntot":29},{"day":9.88,"ntot":36},{"day":9.91,"ntot":19},{"day":9.96,"ntot":6.4},{"day":10.13,"ntot":4.8},{"day":10.38,"ntot":3.5},{"day":10.64,"ntot":3.2},{"day":10.70,"ntot":12.8},{"day":10.74,"ntot":27.5},{"day":10.78,"ntot":19},{"day":10.83,"ntot":9.6},{"day":10.89,"ntot":3.2},{"day":11.15,"ntot":3.8},{"day":11.40,"ntot":3.2},{"day":11.65,"ntot":6.4},{"day":11.76,"ntot":14.4},{"day":11.81,"ntot":16.6},{"day":11.88,"ntot":6.4},{"day":12.04,"ntot":6.4},{"day":12.14,"ntot":16},{"day":12.19,"ntot":32},{"day":12.24,"ntot":9.6},{"day":12.36,"ntot":12.8},{"day":12.42,"ntot":19},{"day":12.47,"ntot":16},{"day":12.52,"ntot":32},{"day":12.57,"ntot":43},{"day":12.61,"ntot":51},{"day":12.65,"ntot":60},{"day":12.69,"ntot":26},{"day":12.73,"ntot":9.6},{"day":12.78,"ntot":61},{"day":12.82,"ntot":38},{"day":12.87,"ntot":12.8},{"day":12.99,"ntot":3.8},{"day":13.18,"ntot":3.2},{"day":13.44,"ntot":3.8},{"day":13.57,"ntot":4.8},{"day":13.69,"ntot":5.8},{"day":13.82,"ntot":3.8},{"day":13.95,"ntot":2.6},{"day":14.14,"ntot":2.6},{"day":14.20,"ntot":4.8},{"day":14.26,"ntot":6.7},{"day":14.46,"ntot":5.1},{"day":14.71,"ntot":4.2},{"day":14.97,"ntot":3.8},{"day":14.99,"ntot":9.3},{"day":15.04,"ntot":4.8},{"day":15.16,"ntot":6.4},{"day":15.28,"ntot":4.8},{"day":15.40,"ntot":3.5},{"day":15.59,"ntot":4.8},{"day":15.72,"ntot":6.4},{"day":15.78,"ntot":38},{"day":15.82,"ntot":49},{"day":15.87,"ntot":19},{"day":15.95,"ntot":4.8},{"day":16.04,"ntot":3.8},{"day":16.08,"ntot":20},{"day":16.13,"ntot":4.8},{"day":16.20,"ntot":11.5},{"day":16.25,"ntot":4.8},{"day":16.48,"ntot":3.8},{"day":16.74,"ntot":9.6},{"day":16.79,"ntot":60},{"day":16.83,"ntot":38},{"day":16.87,"ntot":16},{"day":16.93,"ntot":4.8},{"day":17.12,"ntot":6.4},{"day":17.18,"ntot":16.3},{"day":17.25,"ntot":4.8},{"day":17.50,"ntot":4.8},{"day":17.73,"ntot":12.8},{"day":17.79,"ntot":30},{"day":17.86,"ntot":9.6},{"day":18.01,"ntot":4.8},{"day":18.19,"ntot":7.4},{"day":18.33,"ntot":4.8},{"day":18.71,"ntot":4.8},{"day":18.82,"ntot":11},{"day":18.86,"ntot":16.3},{"day":18.93,"ntot":4.8},{"day":19.09,"ntot":4.8},{"day":19.18,"ntot":22},{"day":19.24,"ntot":6.4},{"day":19.41,"ntot":4.8},{"day":19.67,"ntot":9.6},{"day":19.77,"ntot":23.4},{"day":19.83,"ntot":9.6},{"day":19.92,"ntot":4.8},{"day":20.17,"ntot":12.8},{"day":20.27,"ntot":6.4},{"day":20.34,"ntot":11},{"day":20.43,"ntot":4.8},{"day":20.68,"ntot":6.4},{"day":20.81,"ntot":18.6},{"day":20.87,"ntot":6.4},{"day":21.06,"ntot":4.8},{"day":21.32,"ntot":9.6},{"day":21.45,"ntot":6.4},{"day":21.64,"ntot":8},{"day":21.70,"ntot":26},{"day":21.76,"ntot":54},{"day":21.83,"ntot":32},{"day":21.89,"ntot":6.4},{"day":22.02,"ntot":6.4},{"day":22.14,"ntot":12.8},{"day":22.23,"ntot":6.4},{"day":22.30,"ntot":14.4},{"day":22.36,"ntot":19.8},{"day":22.43,"ntot":9.6},{"day":22.59,"ntot":6.4},{"day":22.72,"ntot":16},{"day":22.78,"ntot":6.4},{"day":22.91,"ntot":3.2},{"day":23.23,"ntot":1.6},{"day":23.48,"ntot":4.8},{"day":23.55,"ntot":2.6},{"day":23.67,"ntot":4.8},{"day":23.87,"ntot":3.2},{"day":23.99,"ntot":3.8},{"day":24.37,"ntot":2.6},{"day":24.63,"ntot":6.4},{"day":24.69,"ntot":16},{"day":24.75,"ntot":11},{"day":24.82,"ntot":3.2},{"day":25.01,"ntot":3.8},{"day":25.26,"ntot":3.2},{"day":25.52,"ntot":4.8},{"day":25.68,"ntot":12.8},{"day":25.75,"ntot":24.6},{"day":25.81,"ntot":6.4},{"day":26.03,"ntot":3.2},{"day":26.15,"ntot":3.2},{"day":26.19,"ntot":18},{"day":26.25,"ntot":4.8},{"day":26.53,"ntot":3.2},{"day":26.66,"ntot":12.8},{"day":26.71,"ntot":34.6},{"day":26.79,"ntot":4.8},{"day":27.04,"ntot":3.2},{"day":27.27,"ntot":6.4},{"day":27.32,"ntot":15},{"day":27.42,"ntot":3.2},{"day":27.61,"ntot":6.4},{"day":27.68,"ntot":12.8},{"day":27.72,"ntot":22},{"day":27.78,"ntot":18},{"day":27.87,"ntot":6.4},{"day":28.13,"ntot":4.8},{"day":28.32,"ntot":6.4},{"day":28.44,"ntot":4.8},{"day":28.51,"ntot":4.8}
    ]
  },
  "vconcat": [
    {
      "width": 760,
      "height": 116,
      "resolve": {"scale": {"y": "independent"}},
      "layer": [
        {
          "data": {"name": "rh"},
          "mark": {"type": "line", "strokeWidth": 1.3},
          "encoding": {
            "x": {"field": "day", "type": "quantitative", "scale": {"domain": [2, 31], "nice": false, "zero": false},
              "axis": {"values": [2,3,4,5,6,7,8,9,10,11,12,13,14,15,16,17,18,19,20,21,22,23,24,25,26,27,28,29,30,31], "grid": true, "gridColor": "#6f6fff", "gridDash": [2, 2], "labels": false, "ticks": false, "domain": false, "title": null}},
            "y": {"field": "rh", "type": "quantitative", "scale": {"domain": [30, 100], "nice": false, "zero": false},
              "axis": {"orient": "left", "values": [30,35,40,45,50,55,60,65,70,75,80,85,90,95,100], "labelExpr": "datum.value % 10 == 0 ? datum.label : ''", "tickSize": {"condition": {"test": "datum.value % 10 != 0", "value": 3}, "value": 6}, "domainColor": "#cccc00", "tickColor": "#cccc00", "labelColor": "#cccc00", "titleColor": "#cccc00", "title": ["RH", "[%]"], "titleX": -53, "grid": false}},
            "color": {"datum": "RH", "type": "nominal", "scale": {"domain": ["RH", "Temp"], "range": ["#cccc00", "#009a4e"]},
              "legend": {"orient": "none", "legendX": 367, "legendY": -6, "direction": "horizontal", "title": null, "symbolType": "stroke", "symbolSize": 676, "symbolStrokeWidth": 1.5, "labelFontSize": 14, "columnPadding": 27, "labelOffset": 6}}
          }
        },
        {
          "data": {"name": "temp"},
          "mark": {"type": "line", "strokeWidth": 1.3},
          "encoding": {
            "x": {"field": "day", "type": "quantitative"},
            "y": {"field": "temp", "type": "quantitative", "scale": {"domain": [0, 30], "nice": false, "zero": false},
              "axis": {"orient": "right", "values": [0,5,10,15,20,25,30], "labelExpr": "datum.value % 10 == 0 ? datum.label : ''", "tickSize": {"condition": {"test": "datum.value % 10 != 0", "value": 3}, "value": 6}, "domainColor": "#009a4e", "tickColor": "#009a4e", "labelColor": "#009a4e", "titleColor": "#009a4e", "title": ["Temperature", "[°C]"], "titleX": 47, "grid": false}},
            "color": {"datum": "Temp", "type": "nominal"}
          }
        }
      ]
    },
    {
      "width": 760,
      "height": 115,
      "resolve": {"scale": {"y": "independent"}},
      "layer": [
        {
          "data": {"name": "wind"},
          "transform": [
            {"window": [{"op": "lead", "field": "day", "as": "day2"}, {"op": "lead", "field": "ws", "as": "ws2"}], "sort": [{"field": "day", "order": "ascending"}]},
            {"filter": "datum.day2 != null"}
          ],
          "mark": {"type": "rule", "strokeWidth": 1.6, "strokeCap": "round"},
          "encoding": {
            "x": {"field": "day", "type": "quantitative", "scale": {"domain": [2, 31], "nice": false, "zero": false},
              "axis": {"values": [2,3,4,5,6,7,8,9,10,11,12,13,14,15,16,17,18,19,20,21,22,23,24,25,26,27,28,29,30,31], "grid": true, "gridColor": "#6f6fff", "gridDash": [2, 2], "labels": false, "ticks": false, "domain": false, "title": null}},
            "x2": {"field": "day2"},
            "y": {"field": "ws", "type": "quantitative", "scale": {"domain": [0, 12], "nice": false},
              "axis": {"orient": "left", "values": [0,1,2,3,4,5,6,7,8,9,10,11,12], "labelExpr": "datum.value % 3 == 0 ? datum.label : ''", "tickSize": {"condition": {"test": "datum.value % 3 != 0", "value": 3}, "value": 6}, "domainColor": "#23399b", "tickColor": "#23399b", "labelColor": "#23399b", "titleColor": "#23399b", "title": ["Wind", "[m s⁻¹]"], "titleX": -53, "grid": false}},
            "y2": {"field": "ws2"},
            "color": {"field": "dir", "type": "quantitative",
              "scale": {"domain": [0, 50, 100, 140, 180, 220, 260, 290, 320, 360], "range": ["#6000ff", "#0020ff", "#0090ff", "#00e0ff", "#00f080", "#40f000", "#c8f000", "#f0dc00", "#ff9000", "#ff1000"]},
              "legend": {"orient": "none", "legendX": 368, "legendY": 6, "direction": "horizontal", "title": "Wind Direction", "titleOrient": "right", "titleFontSize": 14, "titleFontWeight": "normal", "titleColor": "#000000", "titleBaseline": "middle", "gradientLength": 88, "gradientThickness": 6, "gradientStrokeWidth": 0, "values": [0, 100, 200, 300], "labelFontSize": 9, "labelOffset": -16, "titlePadding": 0}}
          }
        },
        {
          "data": {"name": "rain"},
          "mark": {"type": "point", "filled": true, "color": "#ff0000", "size": 30, "opacity": 1},
          "encoding": {
            "x": {"field": "day", "type": "quantitative"},
            "y": {"field": "rain", "type": "quantitative", "scale": {"domain": [0, 0.3], "nice": false},
              "axis": {"orient": "right", "values": [0, 0.05, 0.1, 0.15, 0.2, 0.25, 0.3], "labelExpr": "round(datum.value * 100) % 10 == 0 ? format(datum.value, '.1f') : ''", "tickSize": {"condition": {"test": "round(datum.value * 100) % 10 != 0", "value": 3}, "value": 6}, "domainColor": "#ff2020", "tickColor": "#ff2020", "labelColor": "#ff2020", "titleColor": "#ff2020", "title": ["Rain Rate", "[mm h⁻¹]"], "titleX": 47, "grid": false}},
            "shape": {"datum": "Rain Rate", "type": "nominal", "scale": {"range": ["circle"]},
              "legend": {"orient": "none", "legendX": 568, "legendY": -5, "title": null, "labelFontSize": 14, "symbolSize": 30, "symbolFillColor": "#ff0000", "symbolStrokeColor": "#ff0000", "labelOffset": 0}}
          }
        }
      ]
    },
    {
      "width": 760,
      "height": 117,
      "resolve": {"scale": {"y": "independent"}},
      "layer": [
        {
          "data": {"name": "ntot"},
          "mark": {"type": "line", "strokeWidth": 1.1},
          "encoding": {
            "x": {"field": "day", "type": "quantitative", "scale": {"domain": [2, 31], "nice": false, "zero": false},
              "axis": {"values": [2,3,4,5,6,7,8,9,10,11,12,13,14,15,16,17,18,19,20,21,22,23,24,25,26,27,28,29,30,31], "grid": true, "gridColor": "#6f6fff", "gridDash": [2, 2], "labelExpr": "datum.value % 2 == 0 && datum.value < 31 ? 'Apr/' + datum.value : ''", "tickSize": 7, "domainColor": "#000000", "tickColor": "#000000", "labelColor": "#000000", "labelFontSize": 14, "labelPadding": 4, "labelFlush": false, "title": "Date", "titleColor": "#000000", "titlePadding": 8}},
            "y": {"field": "ntot", "type": "quantitative", "scale": {"domain": [0, 80], "nice": false},
              "axis": {"orient": "right", "values": [0,10,20,30,40,50,60,70,80], "labelExpr": "datum.value == 80 ? '80x10³' : (datum.value % 20 == 0 ? datum.label : '')", "tickSize": {"condition": {"test": "datum.value % 20 != 0", "value": 3}, "value": 6}, "domainColor": "#000000", "tickColor": "#000000", "labelColor": "#000000", "titleColor": "#000000", "title": ["Concentration", "[# cm⁻³]"], "titleX": 47, "grid": false}},
            "color": {"datum": "Nₜₒₜₐₗ", "type": "nominal", "scale": {"domain": ["NOₓ", "Nₜₒₜₐₗ"], "range": ["#ff0000", "#000000"]},
              "legend": {"orient": "none", "legendX": 367, "legendY": -13, "direction": "horizontal", "title": null, "symbolType": "stroke", "symbolSize": 625, "symbolStrokeWidth": 1.5, "labelFontSize": 14, "columnPadding": 54, "labelOffset": 3}}
          }
        },
        {
          "data": {"name": "nox"},
          "mark": {"type": "line", "strokeWidth": 1.3},
          "encoding": {
            "x": {"field": "day", "type": "quantitative"},
            "y": {"field": "nox", "type": "quantitative", "scale": {"domain": [0, 25], "nice": false},
              "axis": {"orient": "left", "values": [0,1,2,3,4,5,6,7,8,9,10,11,12,13,14,15,16,17,18,19,20,21,22,23,24,25], "labelExpr": "datum.value % 5 == 0 ? datum.label : ''", "tickSize": {"condition": {"test": "datum.value % 5 != 0", "value": 3}, "value": 6}, "domainColor": "#ff0000", "tickColor": "#ff0000", "labelColor": "#ff0000", "titleColor": "#ff0000", "title": ["NOₓ", "[ppbv]"], "titleX": -53, "grid": false}},
            "color": {"datum": "NOₓ", "type": "nominal"}
          }
        }
      ]
    }
  ]
}
